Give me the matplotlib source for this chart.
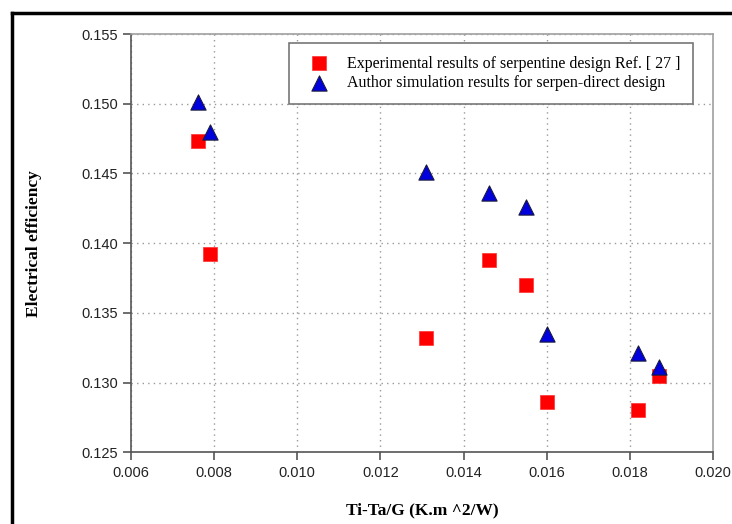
import matplotlib
matplotlib.use('Agg')
import matplotlib.pyplot as plt
import matplotlib.lines as mlines
from matplotlib.ticker import FormatStrFormatter

# data
x_exp = [0.0076, 0.0079, 0.0131, 0.0146, 0.0155, 0.0160, 0.0182, 0.0187]
y_exp = [0.1473, 0.1392, 0.1332, 0.1388, 0.1370, 0.1286, 0.1280, 0.1305]
x_sim = [0.0076, 0.0079, 0.0131, 0.0146, 0.0155, 0.0160, 0.0182, 0.0187]
y_sim = [0.1501, 0.1480, 0.1451, 0.1436, 0.1426, 0.1335, 0.1321, 0.1311]

exp_label = 'Experimental results of serpentine design Ref. [ 27 ]'
sim_label = 'Author simulation results for serpen-direct design'

fig = plt.figure(figsize=(7.32, 5.24), dpi=100)
ax = fig.add_axes([0.179, 0.137, 0.795, 0.798])

ax.scatter(x_exp, y_exp, marker='s', s=95, color='#ff0000', edgecolors='#ff3030', linewidths=0.5,
           zorder=3, label=exp_label)
ax.scatter(x_sim, y_sim, marker='^', s=120, color='#0000dd', edgecolors='#1a1a40', linewidths=0.8,
           zorder=4, label=sim_label)

ax.set_xlim(0.006, 0.020)
ax.set_ylim(0.125, 0.155)
ax.set_xticks([0.006, 0.008, 0.010, 0.012, 0.014, 0.016, 0.018, 0.020])
ax.set_yticks([0.125, 0.130, 0.135, 0.140, 0.145, 0.150, 0.155])
ax.xaxis.set_major_formatter(FormatStrFormatter('%.3f'))
ax.yaxis.set_major_formatter(FormatStrFormatter('%.3f'))
ax.grid(True, linestyle=(0, (1, 3)), color='#999999', linewidth=1.0)
ax.set_axisbelow(True)

for side in ['left', 'bottom']:
    ax.spines[side].set_color('#555555')
    ax.spines[side].set_linewidth(1.2)
for side in ['top', 'right']:
    ax.spines[side].set_color('#a0a0a0')
    ax.spines[side].set_linewidth(1.2)
ax.tick_params(axis='both', direction='out', length=6, width=1.2, color='#555555',
               labelsize=10.5, labelcolor='#222222')
ax.tick_params(axis='x', pad=4)
for lab in ax.get_xticklabels() + ax.get_yticklabels():
    lab.set_family('Liberation Sans')

ax.set_xlabel('Ti-Ta/G (K.m ^2/W)', fontfamily='Liberation Serif', fontweight='bold',
              fontsize=12.5, labelpad=16)
ax.set_ylabel('Electrical efficiency', fontfamily='Liberation Serif', fontweight='bold',
              fontsize=12.5, labelpad=28)

leg = ax.legend(loc='upper right', bbox_to_anchor=(0.966, 0.979), borderaxespad=0,
                fancybox=False, prop={'family': 'Liberation Serif', 'size': 11.5},
                borderpad=0.8, handlelength=2.2, handletextpad=0.62,
                labelspacing=0.22, markerscale=1.0)
leg.get_frame().set_edgecolor('#777777')
leg.get_frame().set_linewidth(1.2)
leg.get_frame().set_alpha(1)

# outer frame (left and top edges of the cropped picture)
fig.add_artist(mlines.Line2D([0.017, 0.017], [0.0, 0.975], color='black', lw=2.5,
                             transform=fig.transFigure))
fig.add_artist(mlines.Line2D([0.017, 1.0], [0.975, 0.975], color='black', lw=2.5,
                             transform=fig.transFigure))

fig.savefig('out.png', dpi=100)
